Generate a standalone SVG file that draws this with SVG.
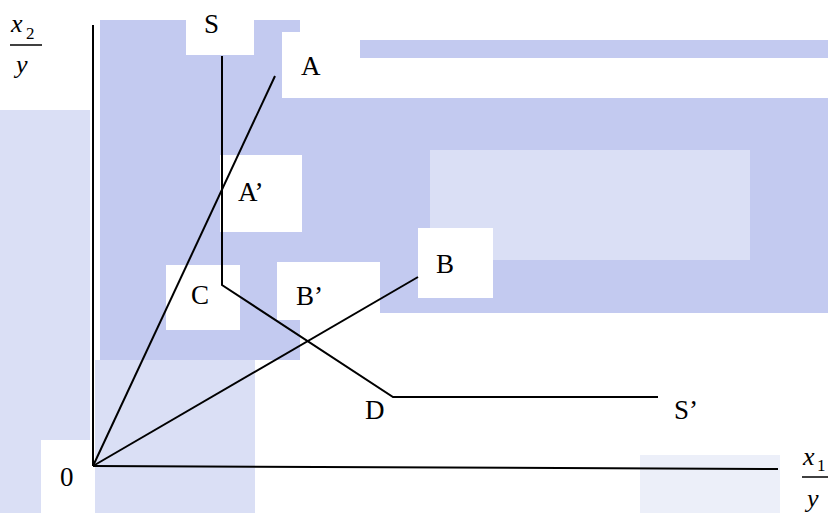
<svg xmlns="http://www.w3.org/2000/svg" width="828" height="513" viewBox="0 0 828 513">
<style>
.ln{stroke:#000;stroke-width:2;fill:none}
text{font-family:'Liberation Serif','Times New Roman','DejaVu Serif',serif;fill:#000}
.lb{font-size:27px}
.it{font-size:26px;font-style:italic}
.sub{font-size:17px}
.wm{fill:#c3caf0}
.wm2{fill:#dadff5}
.wm3{fill:#eceff9}
.bx{fill:#fff}
</style>
<rect width="828" height="513" fill="#fff"/>
<g id="watermark">
<rect class="wm2" x="0" y="110" width="90" height="403"/>
<rect class="wm" x="100" y="20" width="200" height="340"/>
<rect class="wm" x="360" y="40" width="468" height="18"/>
<rect class="wm" x="300" y="98" width="528" height="215"/>
<rect class="wm2" x="95" y="360" width="160" height="153"/>
<rect class="wm2" x="430" y="150" width="320" height="110"/>
<rect class="wm3" x="640" y="455" width="188" height="58"/>
<rect class="bx" x="186" y="0" width="68" height="55"/>
<rect class="bx" x="282" y="32" width="75" height="66"/>
<rect class="bx" x="220" y="155" width="82" height="77"/>
<rect class="bx" x="166" y="265" width="74" height="65"/>
<rect class="bx" x="277" y="262" width="103" height="58"/>
<rect class="bx" x="418" y="228" width="75" height="70"/>
<rect class="bx" x="41" y="440" width="52" height="73"/>
<rect class="bx" x="780" y="440" width="48" height="73"/>
</g>
<g id="connectors">
<line class="ln" x1="93" y1="25" x2="93" y2="466"/>
<line class="ln" x1="93" y1="466" x2="778" y2="469"/>
<line class="ln" x1="93" y1="466" x2="275" y2="76"/>
<line class="ln" x1="93" y1="466" x2="418" y2="277"/>
<polyline class="ln" points="222,56 222,285 393,397 658,397"/>
</g>
<g id="axis-y-label">
<text class="it" x="11" y="32" font-family="Liberation Serif">x</text>
<text class="sub" x="26" y="39" font-family="Liberation Serif">2</text>
<line x1="10" y1="45" x2="42" y2="45" stroke="#000" stroke-width="1.5"/>
<text class="it" x="16" y="73" font-family="Liberation Serif">y</text>
</g>
<g id="axis-x-label">
<text class="it" x="803" y="465" font-family="Liberation Serif">x</text>
<text class="sub" x="817" y="471" font-family="Liberation Serif">1</text>
<line x1="802" y1="477" x2="828" y2="477" stroke="#000" stroke-width="1.5"/>
<text class="it" x="807" y="507" font-family="Liberation Serif">y</text>
</g>
<g id="node-S"><text class="lb" x="204" y="33" font-family="Liberation Serif">S</text></g>
<g id="node-A"><text class="lb" x="301" y="75" font-family="Liberation Serif">A</text></g>
<g id="node-A1"><text class="lb" x="238" y="201" font-family="Liberation Serif">A’</text></g>
<g id="node-C"><text class="lb" x="191" y="304" font-family="Liberation Serif">C</text></g>
<g id="node-B1"><text class="lb" x="296" y="305" font-family="Liberation Serif">B’</text></g>
<g id="node-B"><text class="lb" x="436" y="273" font-family="Liberation Serif">B</text></g>
<g id="node-D"><text class="lb" x="365" y="419" font-family="Liberation Serif">D</text></g>
<g id="node-S1"><text class="lb" x="674" y="419" font-family="Liberation Serif">S’</text></g>
<g id="node-0"><text class="lb" x="60" y="486" font-family="Liberation Serif">0</text></g>
</svg>
